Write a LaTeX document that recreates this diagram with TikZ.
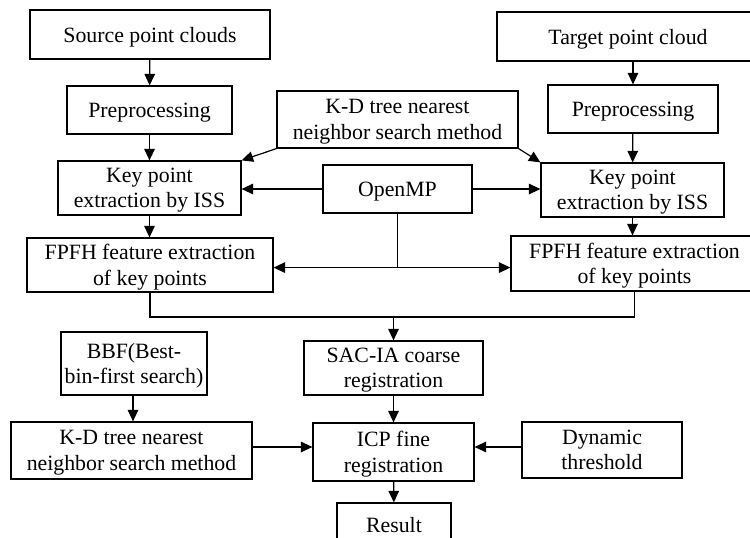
\documentclass[tikz,border=0pt]{standalone}
\usepackage{fontspec}
\setmainfont{Liberation Serif}
\usetikzlibrary{arrows.meta}
\begin{document}
\begin{tikzpicture}[x=1pt,y=-1pt,
  box/.style={draw, line width=1.2pt, inner sep=0pt, align=center, text depth=0pt,
    font=\fontsize{21.8}{25.5}\selectfont},
  conn/.style={line width=1.2pt},
  arr/.style={line width=1.2pt, -{Triangle[length=11.5pt,width=10.5pt]}}]
\useasboundingbox (0,0) rectangle (750,538);
\clip (0,0) rectangle (750,538);
\fill[white] (0,0) rectangle (750,538);
% nodes
\node[box, minimum width=240pt, minimum height=49pt] (src) at (150,34.5) {Source point clouds};
\node[box, minimum width=165pt, minimum height=48pt] (preL) at (149.5,110) {Preprocessing};
\node[box, minimum width=183pt, minimum height=54pt] (keyL) at (149.5,188) {Key point\\extraction by ISS};
\node[box, minimum width=246pt, minimum height=54pt] (fpfhL) at (150,265) {FPFH feature extraction\\of key points};
\node[box, minimum width=241pt, minimum height=57pt] (kdT) at (397.5,119.5) {K-D tree nearest\\neighbor search method};
\node[box, minimum width=149pt, minimum height=48pt] (omp) at (397.5,189) {OpenMP};
\node[box, minimum width=262pt, minimum height=49pt] (tgt) at (628,36.5) {Target point cloud};
\node[box, minimum width=170pt, minimum height=48pt] (preR) at (633,109) {Preprocessing};
\node[box, minimum width=183pt, minimum height=54pt] (keyR) at (632.5,190) {Key point\\extraction by ISS};
\node[box, minimum width=247pt, minimum height=55pt] (fpfhR) at (634.5,263.5) {FPFH feature extraction\\of key points};
\node[box, minimum width=179pt, minimum height=54pt] (sac) at (393.5,368) {SAC-IA coarse\\registration};
\node[box, minimum width=146pt, minimum height=63pt] (bbf) at (134,363.5) {BBF(Best-\\bin-first search)};
\node[box, minimum width=241pt, minimum height=57pt] (kdB) at (131.5,450.5) {K-D tree nearest\\neighbor search method};
\node[box, minimum width=161pt, minimum height=58pt] (icp) at (393.5,452) {ICP fine\\registration};
\node[box, minimum width=160pt, minimum height=56pt] (dyn) at (602,450) {Dynamic\\threshold};
\node[box, minimum width=114pt, minimum height=44pt] (res) at (394,525) {Result};
% connectors
\draw[arr] (src) -- (preL);
\draw[arr] (preL) -- (keyL);
\draw[arr] (keyL) -- (fpfhL.north -| keyL);
\draw[arr] (tgt.south -| preR) -- (preR);
\draw[arr] (preR) -- (keyR);
\draw[arr] (keyR) -- (fpfhR.north -| keyR);
\draw[arr] (kdT.south west) -- (keyL.north east);
\draw[arr] (kdT.south east) -- (keyR.north west);
\draw[arr] (omp.west) -- (keyL.east |- omp.west);
\draw[arr] (omp.east) -- (keyR.west |- omp.east);
\coordinate (j) at ([yshift=-54pt]omp.south);
\draw[conn] (omp.south) -- (j);
\draw[arr] (j) -- (fpfhL.east |- j);
\draw[arr] (j) -- (fpfhR.west |- j);
\coordinate (m) at (sac.north |- 0,317);
\draw[conn] (fpfhL.south) -- (fpfhL.south |- m) -- (fpfhR.south |- m) -- (fpfhR.south);
\draw[arr] (m) -- (sac.north);
\draw[arr] (bbf.south -| 133,0) -- (kdB.north -| 133,0);
\draw[arr] (kdB.east |- 0,447) -- (icp.west |- 0,447);
\draw[arr] (dyn.west |- 0,447) -- (icp.east |- 0,447);
\draw[arr] (sac) -- (icp);
\draw[arr] (icp) -- (res);
\end{tikzpicture}
\end{document}
